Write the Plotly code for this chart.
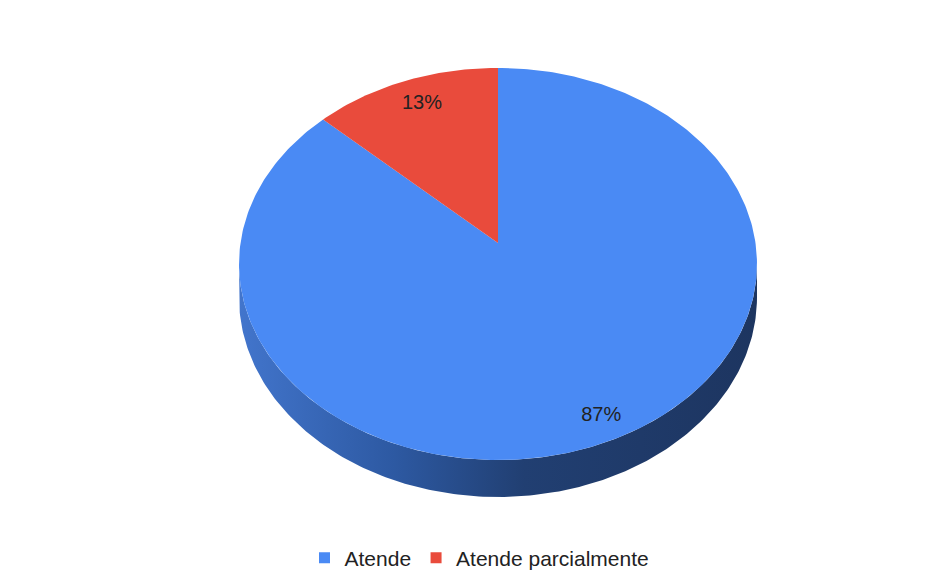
import numpy as np
import plotly.graph_objects as go

# ---- data ----
categories = ["Atende", "Atende parcialmente"]
values = [87, 13]
label_texts = ["87%", "13%"]
top_colors = ["#4a8af4", "#e94b3c"]

# ---- 3D pie geometry (screen pixels) ----
CX, CY = 498.0, 243.0      # pie centre (apex)
A, B = 257.5, 193.8        # projected radii
K = 0.107                  # perspective factor
H = 33.0                   # thickness
LABEL_R = 0.87
LABEL_DX, LABEL_DY = 6.0, 4.0
OFF = 8                    # page body offset


def project(theta, depth=0.0, r=1.0):
    x = r * np.sin(theta)
    y = r * np.cos(theta)
    w = 1.0 + K * y
    return CX + A * x / w, CY - B * y / w + depth / w


fig = go.Figure()

# side wall (visible front part)
th_r = np.arccos(-K)
th_l = 2 * np.pi - th_r
th = np.linspace(th_r, th_l, 200)
xt, yt = project(th)
xb, yb = project(th[::-1], H)
fig.add_trace(go.Scatter(
    x=np.concatenate([xt, xb]), y=np.concatenate([yt, yb]),
    mode="lines", fill="toself", line=dict(width=0),
    fillgradient=dict(type="horizontal",
                      colorscale=[[0, "#4275cc"], [0.3, "#2d59a2"],
                                  [0.55, "#213f72"], [1, "#1d3560"]]),
    hoverinfo="skip", showlegend=False))

# top face slices
total = float(sum(values))
start = 0.0
lab_x, lab_y = [], []
for cat, v, col in zip(categories, values, top_colors):
    frac = v / total
    a0 = 2 * np.pi * start
    a1 = 2 * np.pi * (start + frac)
    t = np.linspace(a0, a1, max(int(400 * frac), 8))
    px, py = project(t)
    fig.add_trace(go.Scatter(
        x=np.concatenate([[CX], px, [CX]]), y=np.concatenate([[CY], py, [CY]]),
        mode="lines", fill="toself", fillcolor=col, line=dict(width=0, color=col),
        hoverinfo="skip", showlegend=False))
    mid = (a0 + a1) / 2
    lx, ly = project(mid, r=LABEL_R)
    lab_x.append(lx + LABEL_DX)
    lab_y.append(ly + LABEL_DY)
    start += frac

fig.add_trace(go.Scatter(
    x=lab_x, y=lab_y, mode="text", text=label_texts,
    textfont=dict(family="Liberation Sans, Arial", size=20, color="#222222"),
    hoverinfo="skip", showlegend=False))

# legend entries
for cat, col in zip(categories, top_colors):
    fig.add_trace(go.Scatter(
        x=[None], y=[None], mode="markers", name=cat,
        marker=dict(symbol="square", size=11, color=col)))

fig.update_layout(
    width=943, height=586,
    margin=dict(l=0, r=0, t=0, b=0),
    paper_bgcolor="white", plot_bgcolor="white",
    xaxis=dict(range=[OFF, 943 + OFF], visible=False, fixedrange=True),
    yaxis=dict(range=[586 + OFF, OFF], visible=False, fixedrange=True),
    showlegend=True,
    legend=dict(orientation="h", x=0.5, xanchor="center",
                y=1 - 550 / 586, yanchor="middle",
                font=dict(family="Liberation Sans, Arial", size=21, color="#222222"),
                itemwidth=30, bgcolor="rgba(0,0,0,0)"),
)

fig.write_html("out.html")
